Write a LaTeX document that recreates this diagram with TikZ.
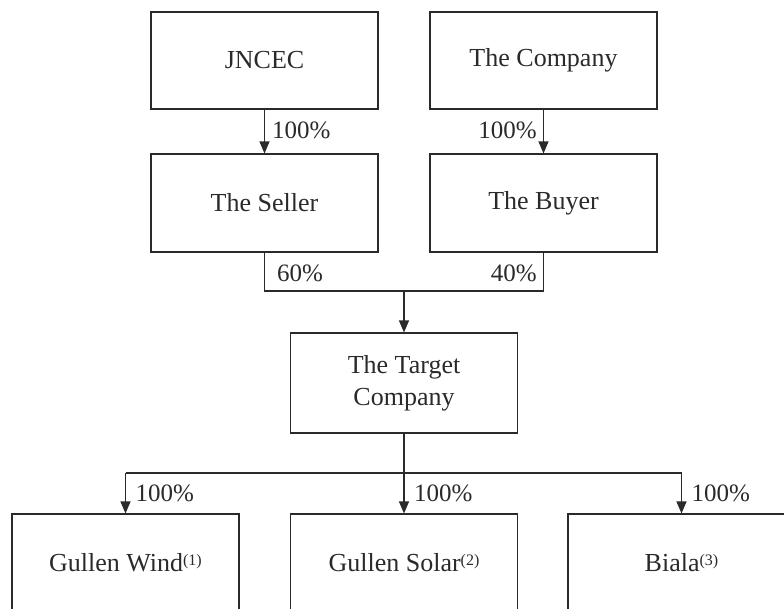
\documentclass[tikz,border=0pt]{standalone}
\usepackage{fontspec}
\setmainfont{Liberation Serif}
\usetikzlibrary{arrows.meta}
\definecolor{ink}{HTML}{2A2A2A}
\newcommand{\supnum}[1]{\raisebox{6pt}{\fontsize{16}{16}\selectfont(#1)}}
\begin{document}
\begin{tikzpicture}[x=1pt,y=-1pt,
  entity/.style={draw=ink,line width=1.1pt,rectangle,minimum width=227pt,minimum height=98pt,inner sep=0pt,
    text=ink,align=center,font=\fontsize{26}{32}\selectfont},
  link/.style={draw=ink,line width=1.1pt},
  arr/.style={link,-{Triangle[width=10pt,length=12pt]}},
  pct/.style={text=ink,inner sep=0pt,font=\fontsize{25}{28}\selectfont}]
\useasboundingbox (0,0) rectangle (784,608);
\clip (0,0) rectangle (784,608);
\node[entity,minimum height=97pt] (jncec) at (264.5,60.5) {JNCEC};
\node[entity,minimum height=97pt] (company) at (543.5,60.5) {The Company};
\node[entity] (seller) at (264.5,203) {The Seller};
\node[entity] (buyer) at (543.5,203) {The Buyer};
\node[entity,minimum height=100pt] (target) at (404,383) {The Target\\Company};
\node[entity] (wind) at (125.5,563) {Gullen Wind\supnum{1}};
\node[entity] (solar) at (404,563) {Gullen Solar\supnum{2}};
\node[entity] (biala) at (681.5,563) {Biala\supnum{3}};
\coordinate (jtop) at (404,291);
\coordinate (jbot) at (404,473);
\coordinate (jl) at (125.5,473);
\coordinate (jr) at (681.5,473);
\draw[arr] (jncec.south) -- (seller.north);
\draw[arr] (company.south) -- (buyer.north);
\node[pct,anchor=west] (l1) at (272,130) {100\%};
\node[pct,anchor=east] (l2) at (537,130) {100\%};
\draw[link] (seller.south) |- (jtop) -| (buyer.south);
\node[pct,anchor=west] (l3) at (277,273) {60\%};
\node[pct,anchor=east] (l4) at (537,273) {40\%};
\draw[arr] (jtop) -- (target.north);
\draw[link] (target.south) -- (jbot);
\draw[link] (jl) -- (jr);
\draw[arr] (jl) -- (wind.north);
\draw[arr] (jbot) -- (solar.north);
\draw[arr] (jr) -- (biala.north);
\node[pct,anchor=west] (l5) at (135.5,493) {100\%};
\node[pct,anchor=west] (l6) at (414,493) {100\%};
\node[pct,anchor=west] (l7) at (691.5,493) {100\%};
\end{tikzpicture}
\end{document}
